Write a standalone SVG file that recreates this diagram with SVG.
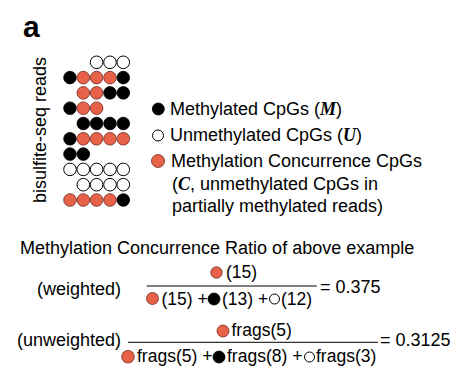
<svg xmlns="http://www.w3.org/2000/svg" width="458" height="380" viewBox="0 0 458 380">
<style>
text{font-family:"Liberation Sans",Arial,sans-serif;fill:#000}
.t{font-size:18px}
.f{font-size:17.5px}
.v{font-family:"Liberation Serif","Times New Roman",serif;font-weight:bold;font-style:italic}
.r{fill:#E8624A;stroke:#6e2a1e;stroke-width:0.8}
.b{fill:#000;stroke:#000;stroke-width:0.8}
.w{fill:#fff;stroke:#000;stroke-width:1}
.ln{stroke:#000;stroke-width:1}
</style>
<rect width="458" height="380" fill="#fff"/>
<text x="23" y="37" style="font-size:30px;font-weight:bold">a</text>
<text class="t" transform="translate(45.5,203) rotate(-90)">bisulfite-seq reads</text>
<g id="reads">
<circle class="w" cx="96.6" cy="62.3" r="6.3"/><circle class="w" cx="110" cy="62.3" r="6.3"/><circle class="w" cx="123.3" cy="62.3" r="6.3"/>
<circle class="b" cx="70" cy="77.6" r="6.3"/><circle class="r" cx="83.3" cy="77.6" r="6.3"/><circle class="r" cx="96.6" cy="77.6" r="6.3"/><circle class="r" cx="110" cy="77.6" r="6.3"/><circle class="b" cx="123.3" cy="77.6" r="6.3"/>
<circle class="r" cx="83.3" cy="92.9" r="6.3"/><circle class="r" cx="96.6" cy="92.9" r="6.3"/><circle class="b" cx="110" cy="92.9" r="6.3"/><circle class="b" cx="123.3" cy="92.9" r="6.3"/>
<circle class="b" cx="70" cy="108.2" r="6.3"/><circle class="r" cx="83.3" cy="108.2" r="6.3"/><circle class="r" cx="96.6" cy="108.2" r="6.3"/>
<circle class="b" cx="83.3" cy="123.5" r="6.3"/><circle class="b" cx="96.6" cy="123.5" r="6.3"/><circle class="b" cx="110" cy="123.5" r="6.3"/><circle class="b" cx="123.3" cy="123.5" r="6.3"/>
<circle class="b" cx="70" cy="138.8" r="6.3"/><circle class="r" cx="83.3" cy="138.8" r="6.3"/><circle class="r" cx="96.6" cy="138.8" r="6.3"/><circle class="r" cx="110" cy="138.8" r="6.3"/><circle class="r" cx="123.3" cy="138.8" r="6.3"/>
<circle class="b" cx="70" cy="154.1" r="6.3"/><circle class="b" cx="83.3" cy="154.1" r="6.3"/>
<circle class="w" cx="70" cy="169.4" r="6.3"/><circle class="w" cx="83.3" cy="169.4" r="6.3"/><circle class="w" cx="96.6" cy="169.4" r="6.3"/><circle class="w" cx="110" cy="169.4" r="6.3"/><circle class="w" cx="123.3" cy="169.4" r="6.3"/>
<circle class="w" cx="83.3" cy="184.7" r="6.3"/><circle class="w" cx="96.6" cy="184.7" r="6.3"/><circle class="w" cx="110" cy="184.7" r="6.3"/><circle class="w" cx="123.3" cy="184.7" r="6.3"/>
<circle class="r" cx="70" cy="200" r="6.3"/><circle class="r" cx="83.3" cy="200" r="6.3"/><circle class="r" cx="96.6" cy="200" r="6.3"/><circle class="r" cx="110" cy="200" r="6.3"/><circle class="b" cx="123.3" cy="200" r="6.3"/>
</g>
<g id="legend">
<circle class="b" cx="158.3" cy="109" r="6"/>
<text class="t" x="170" y="115">Methylated CpGs (<tspan class="v">M</tspan>)</text>
<circle class="w" cx="158" cy="135.5" r="5.5"/>
<text class="t" x="170" y="141">Unmethylated CpGs (<tspan class="v">U</tspan>)</text>
<circle class="r" cx="158" cy="161" r="6.5"/>
<text class="t" x="171" y="166.5">Methylation Concurrence CpGs</text>
<text class="t" x="172" y="190">(<tspan class="v">C</tspan>, unmethylated CpGs in</text>
<text class="t" x="172" y="212">partially methylated reads)</text>
</g>
<g id="formulas">
<text class="t" x="20" y="254">Methylation Concurrence Ratio of above example</text>
<text class="t" x="37" y="295">(weighted)</text>
<line class="ln" x1="146.7" y1="286" x2="316.7" y2="286"/>
<circle class="r" cx="216.5" cy="272.5" r="5.7"/>
<text class="f" x="226" y="278">(15)</text>
<circle class="r" cx="152.5" cy="298.5" r="6"/>
<text class="f" x="161.5" y="305">(15) +</text>
<circle class="b" cx="214" cy="299" r="6"/>
<text class="f" x="222" y="305">(13) +</text>
<circle class="w" cx="274.5" cy="299" r="5"/>
<text class="f" x="281" y="305">(12)</text>
<text class="t" x="320" y="293">= 0.375</text>
<text class="t" x="17" y="346">(unweighted)</text>
<line class="ln" x1="128" y1="342.3" x2="378" y2="342.3"/>
<circle class="r" cx="223" cy="331" r="6"/>
<text class="f" x="231.5" y="335.5">frags(5)</text>
<circle class="r" cx="128" cy="356.7" r="6.3"/>
<text class="f" x="137" y="362">frags(5) +</text>
<circle class="b" cx="219" cy="357" r="6"/>
<text class="f" x="227" y="362">frags(8) +</text>
<circle class="w" cx="309.5" cy="357" r="5"/>
<text class="f" x="316" y="362">frags(3)</text>
<text class="t" x="380" y="346">= 0.3125</text>
</g>
</svg>
